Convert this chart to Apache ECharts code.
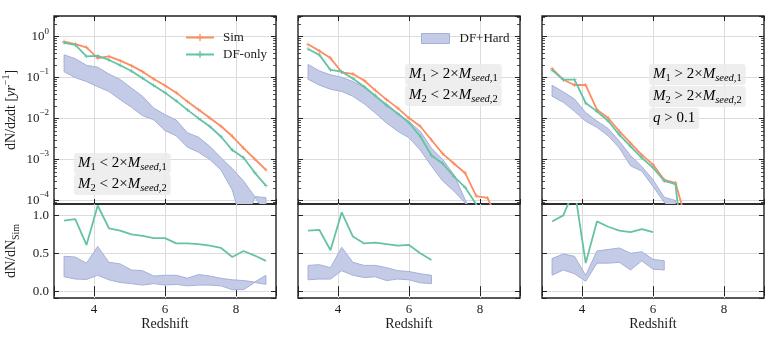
<!DOCTYPE html>
<html>
<head>
<meta charset="utf-8">
<script src="https://cdn.jsdelivr.net/npm/echarts@6/dist/echarts.min.js"></script>
<style>
html, body { margin: 0; padding: 0; background: #fff; }
#chart { width: 772px; height: 339px; }
</style>
</head>
<body>
<div id="chart"></div>
<script>
var dom = document.getElementById("chart");
var myChart = echarts.init(dom);

// redshift bin centres
var redshift = [3.158, 3.474, 3.789, 4.105, 4.421, 4.737, 5.053, 5.368, 5.684, 6.000,
    6.316, 6.632, 6.947, 7.263, 7.579, 7.895, 8.211, 8.526, 8.842];

// panel 1: M1 < 2 Mseed,1 , M2 < 2 Mseed,2
var sim1 = [0.76, 0.66, 0.55, 0.30, 0.33, 0.26, 0.196, 0.14, 0.093, 0.064,
    0.043, 0.026, 0.0165, 0.0103, 0.0065, 0.0037, 0.0019, 0.00103, 0.00056];
var dfOnly1 = [0.71, 0.63, 0.33, 0.34, 0.27, 0.20, 0.145, 0.097, 0.064, 0.043,
    0.027, 0.0163, 0.0101, 0.0064, 0.0036, 0.0017, 0.0011, 0.00048, 0.00023];
var hardLo1 = [0.14, 0.10, 0.08, 0.06, 0.046, 0.029, 0.019, 0.0118, 0.0093, 0.0051,
    0.0038, 0.002, 0.0015, 0.001, 0.00055, 0.00018, 0.00002, 0.00012, 0.00005];
var hardHi1 = [0.36, 0.29, 0.20, 0.18, 0.122, 0.09, 0.056, 0.035, 0.018, 0.0125,
    0.0092, 0.0045, 0.0035, 0.0021, 0.0011, 0.0006, 0.0003, 0.000125, 0.000117];
var ratioDf1 = [0.93, 0.95, 0.61, 1.13, 0.83, 0.80, 0.75, 0.73, 0.70, 0.70,
    0.63, 0.63, 0.62, 0.60, 0.57, 0.45, 0.53, 0.47, 0.40];
var ratioLo1 = [0.19, 0.16, 0.155, 0.21, 0.15, 0.115, 0.10, 0.08, 0.10, 0.08,
    0.09, 0.07, 0.08, 0.08, 0.07, 0.02, 0.02, 0.115, 0.09];
var ratioHi1 = [0.46, 0.45, 0.37, 0.59, 0.38, 0.36, 0.28, 0.27, 0.20, 0.21,
    0.21, 0.17, 0.22, 0.20, 0.17, 0.15, 0.14, 0.12, 0.21];

// panel 2: M1 > 2 Mseed,1 , M2 < 2 Mseed,2
var sim2 = [0.65, 0.45, 0.30, 0.135, 0.123, 0.085, 0.049, 0.029, 0.018, 0.0103,
    0.0065, 0.0030, 0.00139, 0.00080, 0.00047, 0.000128, 0.000115, 0.00003];
var dfOnly2 = [0.50, 0.36, 0.154, 0.14, 0.095, 0.060, 0.036, 0.021, 0.0132, 0.0079,
    0.0037, 0.00125, 0.00080, 0.00039, 0.00021, 0.00008, 0.00002];
var hardLo2 = [0.091, 0.066, 0.052, 0.046, 0.035, 0.023, 0.0136, 0.0078, 0.0049, 0.0034,
    0.0017, 0.00069, 0.00030, 0.00017, 0.000087, 0.00002];
var hardHi2 = [0.21, 0.146, 0.117, 0.102, 0.080, 0.058, 0.035, 0.023, 0.0136, 0.0085,
    0.0049, 0.0019, 0.0010, 0.00043, 0.000105, 0.00003];
var ratioDf2 = [0.80, 0.81, 0.54, 1.04, 0.72, 0.63, 0.64, 0.62, 0.60, 0.61, 0.50, 0.41];
var ratioLo2 = [0.15, 0.16, 0.16, 0.27, 0.21, 0.18, 0.19, 0.14, 0.16, 0.15, 0.11, 0.10];
var ratioHi2 = [0.34, 0.35, 0.31, 0.58, 0.38, 0.34, 0.34, 0.31, 0.27, 0.26, 0.23, 0.21];

// panel 3: M1 > 2 Mseed,1 , M2 > 2 Mseed,2 , q > 0.1
var sim3 = [0.165, 0.089, 0.066, 0.066, 0.0165, 0.0103, 0.0049, 0.0025, 0.0013, 0.00075,
    0.00032, 0.00027, 0.00003];
var dfOnly3 = [0.152, 0.089, 0.089, 0.024, 0.015, 0.0087, 0.0040, 0.0021, 0.0011, 0.00063,
    0.00030, 0.00025, 0.000001];
var hardLo3 = [0.035, 0.025, 0.015, 0.0086, 0.0061, 0.0038, 0.0019, 0.0007, 0.00052, 0.00022,
    0.00009, 0.00005];
var hardHi3 = [0.065, 0.045, 0.030, 0.014, 0.0087, 0.0057, 0.0028, 0.00125, 0.00068, 0.00032,
    0.00012, 0.0001];
var ratioDf3 = [0.92, 1.0, 1.35, 0.37, 0.92, 0.85, 0.80, 0.78, 0.82, 0.78];
var ratioLo3 = [0.21, 0.28, 0.23, 0.13, 0.37, 0.37, 0.38, 0.28, 0.40, 0.29, 0.28];
var ratioHi3 = [0.43, 0.49, 0.46, 0.21, 0.53, 0.55, 0.57, 0.50, 0.52, 0.42, 0.40];

var panels = [
    {sim: sim1, df: dfOnly1, lo: hardLo1, hi: hardHi1, rdf: ratioDf1, rlo: ratioLo1, rhi: ratioHi1},
    {sim: sim2, df: dfOnly2, lo: hardLo2, hi: hardHi2, rdf: ratioDf2, rlo: ratioLo2, rhi: ratioHi2},
    {sim: sim3, df: dfOnly3, lo: hardLo3, hi: hardHi3, rdf: ratioDf3, rlo: ratioLo3, rhi: ratioHi3}
];

var FONT = 'Liberation Serif';
var ORANGE = '#fc8d62', GREEN = '#66c2a5';
var BAND_FILL = '#c4cbe6', BAND_EDGE = '#a5afd9';
var FRAME = '#222222', GRIDLINE = '#dcdcdc';
var PLUS = 'path://M-1,-0.18H-0.18V-1H0.18V-0.18H1V0.18H0.18V1H-0.18V0.18H-1Z';
var XMIN = 2.874, XMAX = 9.126;
var lefts = [54, 298, 542];

function pairs(vals) {
    return vals.map(function (v, i) { return [redshift[i], v]; });
}

function expLabel(value) {
    var l = Math.log(value) / Math.LN10;
    var e = Math.round(l);
    if (Math.abs(l - e) > 0.01) return '';
    return '{b|10}{e|' + (e < 0 ? '\u2212' + (-e) : e) + '}';
}

// fill_between style band: one polygon through lower points and back along upper points
function renderBand(params, api) {
    if (params.dataIndexInside !== 0) return null;
    var n = params.dataInsideLength;
    var lower = [], upper = [];
    for (var i = 0; i < n; i++) {
        lower.push(api.coord([api.value(0, i), api.value(1, i)]));
        upper.push(api.coord([api.value(0, i), api.value(2, i)]));
    }
    return {
        type: 'polygon',
        shape: {points: lower.concat(upper.reverse())},
        style: {fill: BAND_FILL, stroke: BAND_EDGE, lineWidth: 1}
    };
}

var tickStyle = {inside: true, length: 5, lineStyle: {color: FRAME, width: 1}};
var minorStyle = {show: true, splitNumber: 9, length: 3, lineStyle: {color: FRAME, width: 0.8}};
var labelBase = {fontFamily: FONT, fontSize: 13, color: '#1a1a1a'};

var grids = [], xAxes = [], yAxes = [], series = [];

panels.forEach(function (p, k) {
    var gTop = 2 * k, gBot = 2 * k + 1;
    grids.push({left: lefts[k], top: 16, width: 222, height: 188,
        show: true, borderColor: FRAME, borderWidth: 1.4});
    grids.push({left: lefts[k], top: 204, width: 222, height: 94,
        show: true, borderColor: FRAME, borderWidth: 1.4});

    [gTop, gBot].forEach(function (g) {
        var isBot = g === gBot;
        xAxes.push({
            type: 'value', gridIndex: g, position: 'bottom', min: XMIN, max: XMAX, splitNumber: 3,
            axisLine: {show: false}, axisTick: tickStyle,
            splitLine: {show: true, showMinLine: false, showMaxLine: false, lineStyle: {color: GRIDLINE}},
            axisLabel: Object.assign({show: isBot, margin: 5, formatter: function (v) {
                return Math.abs(v - Math.round(v)) < 1e-6 ? String(Math.round(v)) : '';
            }}, labelBase),
            name: isBot ? 'Redshift' : '', nameLocation: 'middle', nameGap: 19,
            nameTextStyle: {fontFamily: FONT, fontSize: 14, color: '#1a1a1a'}
        });
        xAxes.push({
            type: 'value', gridIndex: g, position: 'top', min: XMIN, max: XMAX, splitNumber: 3,
            axisLine: {show: false}, axisTick: tickStyle, axisLabel: {show: false}, splitLine: {show: false}
        });
    });

    // log axis of the top panel
    yAxes.push({
        type: 'log', gridIndex: gTop, position: 'left', min: 8.2e-5, max: 3.2,
        axisLine: {show: false}, axisTick: tickStyle, minorTick: minorStyle,
        splitLine: {show: true, showMinLine: false, showMaxLine: false, lineStyle: {color: GRIDLINE}},
        axisLabel: Object.assign({show: k === 0, margin: 5, formatter: expLabel, rich: {
            b: {fontFamily: FONT, fontSize: 13, color: '#1a1a1a', lineHeight: 20},
            e: {fontFamily: FONT, fontSize: 9, color: '#1a1a1a', lineHeight: 11, verticalAlign: 'top'}
        }}, labelBase),
        name: k === 0 ? 'dN/dzdt [{i|yr}{e|\u22121}]' : '', nameLocation: 'middle', nameRotate: 90, nameGap: 33,
        nameTextStyle: {fontFamily: FONT, fontSize: 14, color: '#1a1a1a', lineHeight: 20, rich: {
            i: {fontFamily: FONT, fontStyle: 'italic', fontSize: 14, color: '#1a1a1a', lineHeight: 20},
            e: {fontFamily: FONT, fontSize: 10, color: '#1a1a1a', lineHeight: 12, verticalAlign: 'top'}
        }}
    });
    yAxes.push({
        type: 'log', gridIndex: gTop, position: 'right', min: 8.2e-5, max: 3.2,
        axisLine: {show: false}, axisTick: tickStyle, minorTick: minorStyle,
        axisLabel: {show: false}, splitLine: {show: false}
    });
    // ratio axis of the bottom panel
    yAxes.push({
        type: 'value', gridIndex: gBot, position: 'left', min: -0.09, max: 1.15, splitNumber: 2,
        axisLine: {show: false}, axisTick: tickStyle,
        splitLine: {show: true, showMinLine: false, showMaxLine: false, lineStyle: {color: GRIDLINE}},
        axisLabel: Object.assign({show: k === 0, margin: 5, formatter: function (v) {
            return Math.abs(v * 2 - Math.round(v * 2)) < 1e-6 ? v.toFixed(1) : '';
        }}, labelBase),
        name: k === 0 ? 'dN/dN{s|Sim}' : '', nameLocation: 'middle', nameRotate: 90, nameGap: 33,
        nameTextStyle: {fontFamily: FONT, fontSize: 14, color: '#1a1a1a', lineHeight: 20, rich: {
            s: {fontFamily: FONT, fontSize: 10, color: '#1a1a1a', lineHeight: 13, verticalAlign: 'bottom'}
        }}
    });
    yAxes.push({
        type: 'value', gridIndex: gBot, position: 'right', min: -0.09, max: 1.15, splitNumber: 2,
        axisLine: {show: false}, axisTick: tickStyle, axisLabel: {show: false}, splitLine: {show: false}
    });

    function band(lo, hi, g) {
        return {
            type: 'custom', name: 'DF+Hard', xAxisIndex: 2 * g, yAxisIndex: 2 * g,
            renderItem: renderBand, clip: true, z: 1,
            itemStyle: {color: BAND_FILL, borderColor: BAND_EDGE},
            encode: {x: 0, y: [1, 2]},
            data: lo.map(function (v, i) { return [redshift[i], v, hi[i]]; })
        };
    }

    series.push(band(p.lo, p.hi, gTop));
    series.push(band(p.rlo, p.rhi, gBot));
    series.push({
        type: 'line', name: 'Sim', xAxisIndex: 2 * gTop, yAxisIndex: 2 * gTop, data: pairs(p.sim),
        symbol: PLUS, symbolSize: 4, lineStyle: {color: ORANGE, width: 1.8}, itemStyle: {color: ORANGE}, z: 3
    });
    series.push({
        type: 'line', name: 'DF-only', xAxisIndex: 2 * gTop, yAxisIndex: 2 * gTop, data: pairs(p.df),
        symbol: PLUS, symbolSize: 4, lineStyle: {color: GREEN, width: 1.8}, itemStyle: {color: GREEN}, z: 4
    });
    series.push({
        type: 'line', name: 'DF-only', xAxisIndex: 2 * gBot, yAxisIndex: 2 * gBot, data: pairs(p.rdf),
        showSymbol: false, lineStyle: {color: GREEN, width: 1.8}, itemStyle: {color: GREEN}, z: 4
    });
});

var boxRich = {
    m: {fontFamily: FONT, fontStyle: 'italic', fontSize: 15, color: '#1a1a1a', lineHeight: 19},
    r: {fontFamily: FONT, fontSize: 15, color: '#1a1a1a', lineHeight: 19},
    s: {fontFamily: FONT, fontStyle: 'italic', fontSize: 10.5, color: '#1a1a1a', lineHeight: 13, verticalAlign: 'bottom'},
    t: {fontFamily: FONT, fontSize: 10.5, color: '#1a1a1a', lineHeight: 13, verticalAlign: 'bottom'}
};

function box(x, y, text) {
    return {
        type: 'text', left: x, top: y, z: 10,
        style: {text: text, rich: boxRich, backgroundColor: 'rgba(235,235,235,0.85)',
            padding: [1, 4, 1, 4], borderRadius: 3}
    };
}

var lt1 = '{m|M}{t|1}{r| < 2\u00d7}{m|M}{s|seed}{t|,1}';
var gt1 = '{m|M}{t|1}{r| > 2\u00d7}{m|M}{s|seed}{t|,1}';
var lt2 = '{m|M}{t|2}{r| < 2\u00d7}{m|M}{s|seed}{t|,2}';
var gt2 = '{m|M}{t|2}{r| > 2\u00d7}{m|M}{s|seed}{t|,2}';
var qcut = '{m|q}{r| > 0.1}';

option = {
    animation: false,
    grid: grids,
    xAxis: xAxes,
    yAxis: yAxes,
    legend: [{
        data: ['Sim', 'DF-only'], left: 180, top: 26, orient: 'vertical',
        itemWidth: 28, itemHeight: 9, itemGap: 4,
        textStyle: {fontFamily: FONT, fontSize: 13, color: '#1a1a1a', padding: [0, 0, 0, 4]}
    }, {
        data: [{name: 'DF+Hard', icon: 'rect', itemStyle: {color: BAND_FILL, borderColor: BAND_EDGE, borderWidth: 1}}],
        left: 416, top: 27, itemWidth: 28, itemHeight: 10,
        textStyle: {fontFamily: FONT, fontSize: 13, color: '#1a1a1a', padding: [0, 0, 0, 5]}
    }],
    graphic: [
        box(74, 153, lt1), box(74, 174, lt2),
        box(405, 64, gt1), box(405, 85, lt2),
        box(649, 64, gt1), box(649, 86, gt2), box(649, 108, qcut)
    ],
    series: series
};

if (option && typeof option === "object") {
    myChart.setOption(option, true);
}
</script>
</body>
</html>
